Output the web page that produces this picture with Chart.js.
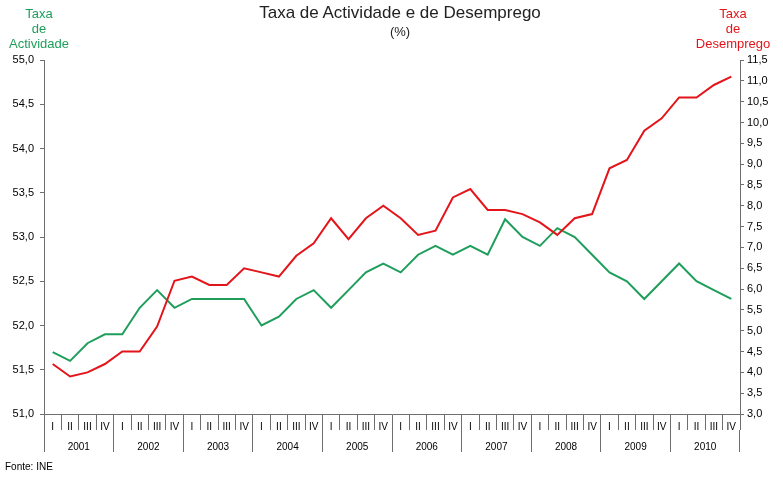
<!DOCTYPE html>
<html>
<head>
<meta charset="utf-8">
<script src="https://cdn.jsdelivr.net/npm/chart.js@4"></script>
<style>
  body { margin: 0; background: #fff; }
  #wrap { position: relative; width: 783px; height: 477px; font-family: "Liberation Sans", Arial, sans-serif; }
  .lbl { position: absolute; text-align: center; white-space: nowrap; }
</style>
</head>
<body>
<div id="wrap">
  <canvas id="chart" width="783" height="477"></canvas>
  <div class="lbl" style="left:200px;width:400px;top:3px;font-size:17px;color:#222;">Taxa de Actividade e de Desemprego</div>
  <div class="lbl" style="left:300px;width:200px;top:24px;font-size:13px;color:#222;">(%)</div>
  <div class="lbl" style="left:-1px;width:80px;top:6px;font-size:13px;line-height:15px;color:#1f9e5b;">Taxa<br>de<br>Actividade</div>
  <div class="lbl" style="left:693px;width:80px;top:6px;font-size:13px;line-height:15px;color:#e3151a;">Taxa<br>de<br>Desemprego</div>
  <div class="lbl" style="left:5px;top:461px;font-size:10px;color:#000;">Fonte: INE</div>
</div>
<script>
const years = ["2001", "2002", "2003", "2004", "2005", "2006", "2007", "2008", "2009", "2010"];
const quarterNames = ["I", "II", "III", "IV"];

// taxa de actividade (eixo esquerdo)
const actividade = [
  51.7, 51.6, 51.8, 51.9, 51.9, 52.2, 52.4, 52.2, 52.3, 52.3,
  52.3, 52.3, 52.0, 52.1, 52.3, 52.4, 52.2, 52.4, 52.6, 52.7,
  52.6, 52.8, 52.9, 52.8, 52.9, 52.8, 53.2, 53.0, 52.9, 53.1,
  53.0, 52.8, 52.6, 52.5, 52.3, 52.5, 52.7, 52.5, 52.4, 52.3
];
// taxa de desemprego (eixo direito)
const desemprego = [
  4.2, 3.9, 4.0, 4.2, 4.5, 4.5, 5.1, 6.2, 6.3, 6.1,
  6.1, 6.5, 6.4, 6.3, 6.8, 7.1, 7.7, 7.2, 7.7, 8.0,
  7.7, 7.3, 7.4, 8.2, 8.4, 7.9, 7.9, 7.8, 7.6, 7.3,
  7.7, 7.8, 8.9, 9.1, 9.8, 10.1, 10.6, 10.6, 10.9, 11.1
];

const quarters = years.flatMap(() => quarterNames);
const fmt = v => v.toFixed(1).replace(".", ",");

const axisColor = "#6e6e6e";
const font = { family: "'Liberation Sans', Arial, sans-serif" };

new Chart(document.getElementById("chart"), {
  type: "line",
  data: {
    labels: quarters,
    datasets: [
      {
        label: "Taxa de Desemprego",
        data: desemprego,
        yAxisID: "y1",
        xAxisID: "x",
        borderColor: "#e3151a",
        borderWidth: 2,
        pointRadius: 0,
        tension: 0
      },
      {
        label: "Taxa de Actividade",
        data: actividade,
        yAxisID: "y",
        xAxisID: "x",
        borderColor: "#1f9e5b",
        borderWidth: 2,
        pointRadius: 0,
        tension: 0
      }
    ]
  },
  options: {
    responsive: false,
    animation: false,
    layout: { padding: { top: 60, bottom: 25, left: 0, right: 0 } },
    plugins: {
      legend: { display: false },
      title: { display: false },
      tooltip: { enabled: false }
    },
    scales: {
      x: {
        type: "category",
        position: "bottom",
        weight: 0,
        offset: true,
        grid: { offset: true, drawOnChartArea: false, drawTicks: true, tickLength: 16, color: axisColor },
        border: { display: true, color: axisColor },
        ticks: { autoSkip: false, maxRotation: 0, padding: -9, color: "#000", font: { ...font, size: 10 } },
        afterFit: s => { s.height = 16; }
      },
      x2: {
        type: "category",
        position: "bottom",
        weight: 1,
        labels: years,
        offset: true,
        grid: { offset: true, drawOnChartArea: false, drawTicks: true, tickLength: 22, color: axisColor },
        border: { display: false },
        ticks: { autoSkip: false, maxRotation: 0, padding: -11, color: "#000", font: { ...font, size: 10 } },
        afterFit: s => { s.height = 22; }
      },
      y: {
        position: "left",
        min: 51,
        max: 55,
        grid: { drawOnChartArea: false, drawTicks: true, tickLength: 4, color: axisColor },
        border: { display: true, color: axisColor },
        ticks: { stepSize: 0.5, padding: 6, color: "#000", font: { ...font, size: 11 }, callback: v => fmt(v) },
        afterFit: s => { s.width = 44; }
      },
      y1: {
        position: "right",
        min: 3,
        max: 11.5,
        grid: { drawOnChartArea: false, drawTicks: true, tickLength: 4, color: axisColor },
        border: { display: true, color: axisColor },
        ticks: { stepSize: 0.5, padding: 3, color: "#000", font: { ...font, size: 11 }, callback: v => fmt(v) },
        afterFit: s => { s.width = 43; }
      }
    }
  }
});
</script>
</body>
</html>
